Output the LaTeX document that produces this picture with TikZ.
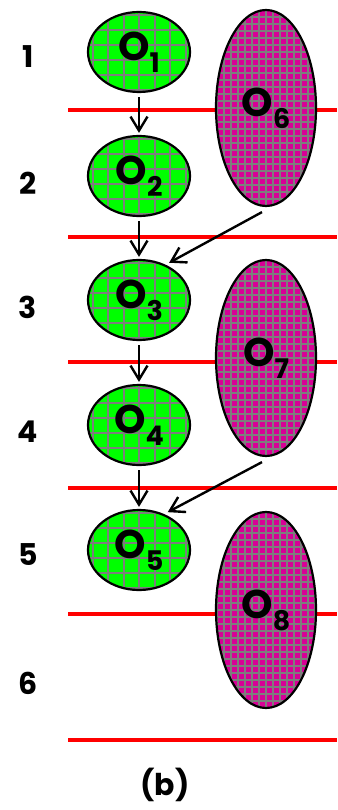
\documentclass[tikz,border=0pt]{standalone}
\usepackage{fontspec}
\setmainfont{Poppins}
\usetikzlibrary{arrows.meta,shapes.geometric}
\definecolor{grn}{RGB}{0,255,0}
\definecolor{mag}{RGB}{215,0,150}
\definecolor{gridg}{RGB}{125,125,125}
\newcommand\osub[1]{O\raisebox{-0.3em}{\fontsize{27}{27}\selectfont #1}}
\tikzset{
  redline/.style={draw=red, line width=3.5pt},
  conn/.style={-{Straight Barb[length=14pt,width=17pt,line width=2.4pt]}, line width=2.4pt},
  rowlab/.style={font=\fontsize{30}{32}\selectfont\bfseries},
  gell/.style={ellipse, draw=black, line width=2.2pt, fill=grn, minimum width=102pt, minimum height=80pt, inner sep=0pt,
    font=\fontsize{40}{44}\selectfont\bfseries,
    path picture={
      \foreach \k in {-4,...,4}{
        \draw[gridg, line width=2pt] ([xshift=\k*15.5pt]path picture bounding box.north) -- ([xshift=\k*15.5pt]path picture bounding box.south);
        \draw[gridg, line width=2pt] ([yshift=\k*15pt+7pt]path picture bounding box.west) -- ([yshift=\k*15pt+7pt]path picture bounding box.east);
      }}},
  mell/.style={ellipse, draw=black, line width=2.2pt, fill=mag, minimum width=100pt, minimum height=196pt, inner sep=0pt,
    font=\fontsize{40}{44}\selectfont\bfseries,
    path picture={
      \foreach \k in {-15,...,15}{
        \draw[gridg, line width=1.7pt] ([xshift=\k*7pt]path picture bounding box.north) -- ([xshift=\k*7pt]path picture bounding box.south);
      }
      \foreach \k in {-15,...,15}{
        \draw[gridg, line width=1.7pt] ([yshift=\k*7pt]path picture bounding box.west) -- ([yshift=\k*7pt]path picture bounding box.east);
      }}}
}
\begin{document}
\begin{tikzpicture}[x=1pt,y=-1pt]
\useasboundingbox (0,0) rectangle (337,810);
% red lines
\foreach \yy [count=\i] in {110,237,362,488,614,740}{
  \coordinate (ra\i) at (68,\yy);
  \coordinate (rb\i) at (337,\yy);
  \draw[redline] (ra\i) -- (rb\i);
}
% row labels
\node[rowlab] (r1) at (28,57) {1};
\node[rowlab] (r2) at (28,183) {2};
\node[rowlab] (r3) at (28,307) {3};
\node[rowlab] (r4) at (28,432) {4};
\node[rowlab] (r5) at (28,555) {5};
\node[rowlab] (r6) at (28,683) {6};
% green ellipses
\node[gell] (o1) at (139,52) {\osub{1}};
\node[gell] (o2) at (139,176) {\osub{2}};
\node[gell] (o3) at (139,300) {\osub{3}};
\node[gell] (o4) at (139,425) {\osub{4}};
\node[gell] (o5) at (139,550) {\osub{5}};
% magenta ellipses
\node[mell] (o6) at (266,108) {\osub{6}};
\node[mell] (o7) at (266,358) {\osub{7}};
\node[mell] (o8) at (266,610) {\osub{8}};
% arrows
\draw[conn, shorten <=4pt, shorten >=2pt] (o1) -- (o2);
\draw[conn, shorten <=4pt, shorten >=2pt] (o2) -- (o3);
\draw[conn, shorten <=4pt, shorten >=2pt] (o3) -- (o4);
\draw[conn, shorten <=4pt, shorten >=2pt] (o4) -- (o5);
\draw[conn, shorten >=4pt] ([xshift=-4pt,yshift=-5pt]o6.south) -- (o3.53);
\draw[conn, shorten >=4pt] ([xshift=-4pt,yshift=-5pt]o7.south) -- (o5.55);
% caption
\node[rowlab] (cap) at (165,785) {(b)};
\end{tikzpicture}
\end{document}
